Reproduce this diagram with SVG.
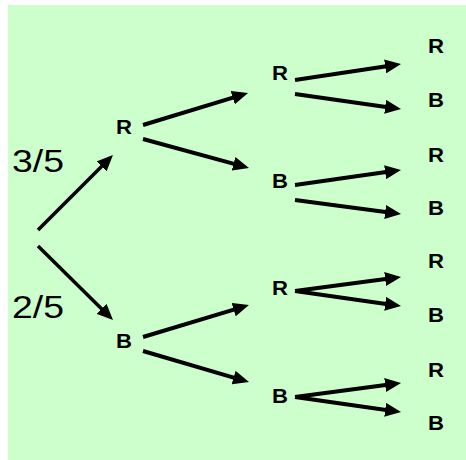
<svg xmlns="http://www.w3.org/2000/svg" width="466" height="460" viewBox="0 0 466 460">
  <style>
    .lbl { font-family: "Liberation Sans", Arial, sans-serif; font-weight: bold; font-size: 20px; fill: #000; }
    .frac { font-family: "Liberation Sans", Arial, sans-serif; font-size: 31px; fill: #000; }
    .edge { stroke: #000; stroke-width: 4; fill: none; marker-end: url(#head); }
    .edge1 { stroke-width: 3.5; }
  </style>
  <defs>
    <marker id="head" markerUnits="userSpaceOnUse" markerWidth="16" markerHeight="14" refX="8" refY="7" orient="auto">
      <path d="M0,0 L16,7 L0,14 z" fill="#000"/>
    </marker>
  </defs>

  <!-- backdrop -->
  <rect x="8" y="5" width="458" height="455" fill="#CCFFCC"/>

  <!-- branch connectors -->
  <g id="connectors">
    <line class="edge edge1" x1="38" y1="230" x2="107.3" y2="160.7"/>
    <line class="edge edge1" x1="38" y1="246" x2="107.3" y2="314.4"/>

    <line class="edge" x1="143" y1="125" x2="240.4" y2="95.3"/>
    <line class="edge" x1="143" y1="139" x2="241.3" y2="165.9"/>
    <line class="edge" x1="143" y1="337" x2="241.3" y2="307.3"/>
    <line class="edge" x1="143" y1="351" x2="241.3" y2="379.8"/>

    <line class="edge" x1="295" y1="80" x2="393.1" y2="65.2"/>
    <line class="edge" x1="295" y1="94" x2="393.1" y2="107.9"/>
    <line class="edge" x1="295" y1="185" x2="393.1" y2="171.1"/>
    <line class="edge" x1="295" y1="200" x2="393.1" y2="213"/>
    <line class="edge" x1="295" y1="291" x2="393.1" y2="278"/>
    <line class="edge" x1="295" y1="291" x2="393.1" y2="304.9"/>
    <line class="edge" x1="295" y1="397" x2="393.1" y2="384"/>
    <line class="edge" x1="295" y1="397" x2="393.1" y2="410.9"/>
  </g>

  <!-- probabilities -->
  <g id="prob-red"><text class="frac" x="12" y="172" textLength="52" lengthAdjust="spacingAndGlyphs">3/5</text></g>
  <g id="prob-blue"><text class="frac" x="12" y="318" textLength="52" lengthAdjust="spacingAndGlyphs">2/5</text></g>

  <!-- first draw -->
  <g id="n-R"><text class="lbl" x="116" y="134" textLength="16" lengthAdjust="spacingAndGlyphs">R</text></g>
  <g id="n-B"><text class="lbl" x="116" y="348" textLength="16" lengthAdjust="spacingAndGlyphs">B</text></g>

  <!-- second draw -->
  <g id="n-RR"><text class="lbl" x="272" y="80" textLength="16" lengthAdjust="spacingAndGlyphs">R</text></g>
  <g id="n-RB"><text class="lbl" x="272" y="188" textLength="16" lengthAdjust="spacingAndGlyphs">B</text></g>
  <g id="n-BR"><text class="lbl" x="272" y="295" textLength="16" lengthAdjust="spacingAndGlyphs">R</text></g>
  <g id="n-BB"><text class="lbl" x="272" y="403" textLength="16" lengthAdjust="spacingAndGlyphs">B</text></g>

  <!-- third draw -->
  <g id="n-RRR"><text class="lbl" x="428" y="53" textLength="16" lengthAdjust="spacingAndGlyphs">R</text></g>
  <g id="n-RRB"><text class="lbl" x="428" y="107" textLength="16" lengthAdjust="spacingAndGlyphs">B</text></g>
  <g id="n-RBR"><text class="lbl" x="428" y="162" textLength="16" lengthAdjust="spacingAndGlyphs">R</text></g>
  <g id="n-RBB"><text class="lbl" x="428" y="215" textLength="16" lengthAdjust="spacingAndGlyphs">B</text></g>
  <g id="n-BRR"><text class="lbl" x="428" y="268" textLength="16" lengthAdjust="spacingAndGlyphs">R</text></g>
  <g id="n-BRB"><text class="lbl" x="428" y="322" textLength="16" lengthAdjust="spacingAndGlyphs">B</text></g>
  <g id="n-BBR"><text class="lbl" x="428" y="377" textLength="16" lengthAdjust="spacingAndGlyphs">R</text></g>
  <g id="n-BBB"><text class="lbl" x="428" y="430" textLength="16" lengthAdjust="spacingAndGlyphs">B</text></g>
</svg>
